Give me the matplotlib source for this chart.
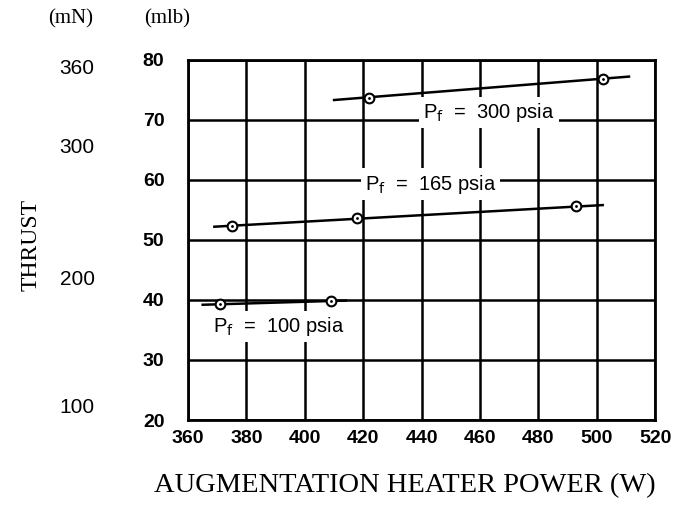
import matplotlib.pyplot as plt
import numpy as np

# data (power in W, thrust in mlb)
p300_x = [422, 502]
p300_y = [73.7, 76.8]
p300_line_x = [410, 511]
p300_line_y = [73.3, 77.2]

p165_x = [375, 418, 493]
p165_y = [52.4, 53.6, 55.6]
p165_line_x = [369, 502]
p165_line_y = [52.2, 55.8]

p100_x = [371, 409]
p100_y = [39.3, 39.8]
p100_line_x = [365, 414]
p100_line_y = [39.2, 39.9]

x_ticks = [360, 380, 400, 420, 440, 460, 480, 500, 520]
y_ticks = [20, 30, 40, 50, 60, 70, 80]
# mN scale as drawn on the original (positions in mlb)
mn_labels = ["100", "200", "300", "360"]
mn_pos = [22.5, 43.7, 65.8, 78.8]

sans = "Liberation Sans"
serif = "Liberation Serif"

fig = plt.figure(figsize=(6.89, 5.11), dpi=100)
ax = fig.add_axes([0.273, 0.178, 0.678, 0.705])

ax.set_xlim(360, 520)
ax.set_ylim(20, 80)
ax.set_xticks(x_ticks)
ax.set_yticks(y_ticks)
ax.tick_params(axis="x", length=0, labelsize=14, pad=7)
ax.tick_params(axis="y", length=0, labelsize=14, pad=17)
for lab in ax.get_xticklabels() + ax.get_yticklabels():
    lab.set_family(sans)
    lab.set_fontweight("bold")
for s in ax.spines.values():
    s.set_linewidth(2)

ax.grid(True, color="black", linewidth=1.8, zorder=0)
ax.set_axisbelow(True)

# curves
for lx, ly, px, py in [(p300_line_x, p300_line_y, p300_x, p300_y),
                       (p165_line_x, p165_line_y, p165_x, p165_y),
                       (p100_line_x, p100_line_y, p100_x, p100_y)]:
    ax.plot(lx, ly, color="black", linewidth=1.8, zorder=3)
    ax.plot(px, py, "o", ms=7, mfc="white", mec="black", mew=1.5, zorder=4)
    ax.plot(px, py, ".", ms=2, color="black", zorder=5)

box = dict(facecolor="white", edgecolor="none", pad=3)
lbl = dict(fontsize=14.5, family=sans, ha="center", va="center", bbox=box, zorder=3)
ax.text(463, 71.2, r"P$_\mathrm{f}$  =  300 psia", **lbl)
ax.text(443, 59.3, r"P$_\mathrm{f}$  =  165 psia", **lbl)
ax.text(391, 35.6, r"P$_\mathrm{f}$  =  100 psia", **lbl)

# second thrust scale in mN
sec = ax.twinx()
sec.set_ylim(ax.get_ylim())
sec.yaxis.set_ticks_position("left")
sec.spines["left"].set_position(("axes", -0.2))
for s in sec.spines.values():
    s.set_visible(False)
sec.set_yticks(mn_pos, mn_labels)
sec.tick_params(length=0, labelsize=15, pad=0)
for lab in sec.get_yticklabels():
    lab.set_family(sans)

fig.text(0.102, 0.963, "(mN)", fontsize=15, family=serif, ha="center", va="center")
fig.text(0.243, 0.963, "(mlb)", fontsize=15, family=serif, ha="center", va="center")
fig.text(0.045, 0.52, "THRUST", fontsize=17, family=serif, rotation=90,
         ha="center", va="center")
fig.text(0.588, 0.05, "AUGMENTATION HEATER POWER (W)", fontsize=20.5, family=serif,
         ha="center", va="center")

plt.savefig("out.png")
